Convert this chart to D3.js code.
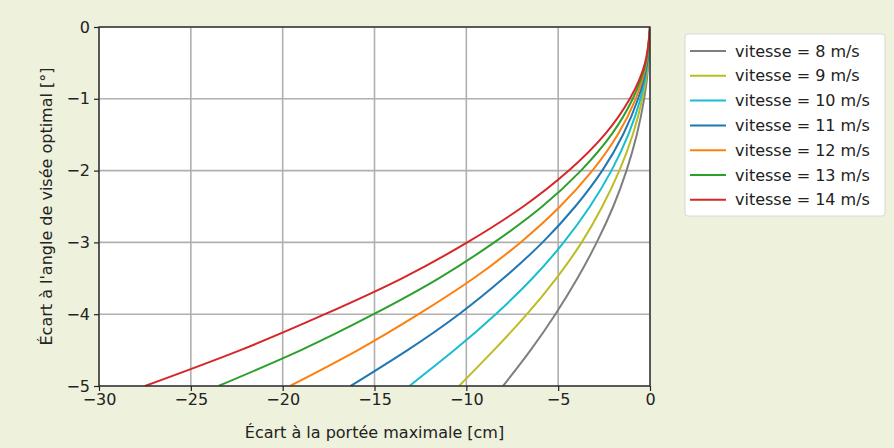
<!DOCTYPE html>
<html><head><meta charset="utf-8">
<script src="https://cdn.jsdelivr.net/npm/d3@7"></script>
<style>
html,body{margin:0;padding:0;background:#eef1dc;}
svg{display:block;}
text{font-family:"DejaVu Sans",sans-serif;fill:#222;}
</style></head>
<body>
<svg id="chart" width="894" height="448"></svg>
<script>
// Angle deviation levels (degrees) at which the range deviation was read
const angles = [0, -0.5, -1, -1.5, -2, -2.5, -3, -3.5, -4, -4.5, -5];
const speeds = [8, 9, 10, 11, 12, 13, 14];
const colors = ["#7f7f7f", "#bcbd22", "#17becf", "#1f77b4", "#ff7f0e", "#2ca02c", "#d62728"];
// Range deviation (cm) for each speed
const v8  = [0, -0.08, -0.32, -0.72, -1.28, -2.0, -2.9, -3.95, -5.15, -6.5, -8.0];
const v9  = [0, -0.10, -0.42, -0.94, -1.67, -2.6, -3.72, -5.1, -6.7, -8.5, -10.4];
const v10 = [0, -0.13, -0.52, -1.18, -2.1, -3.27, -4.7, -6.4, -8.4, -10.65, -13.1];
const v11 = [0, -0.16, -0.65, -1.47, -2.6, -4.07, -5.85, -7.98, -10.4, -13.2, -16.3];
const v12 = [0, -0.20, -0.78, -1.76, -3.14, -4.9, -7.05, -9.6, -12.6, -15.9, -19.6];
const v13 = [0, -0.23, -0.94, -2.1, -3.76, -5.87, -8.48, -11.5, -15.05, -19.0, -23.5];
const v14 = [0, -0.27, -1.1, -2.47, -4.42, -6.9, -9.95, -13.5, -17.7, -22.3, -27.5];
const seriesValues = [v8, v9, v10, v11, v12, v13, v14];
const xTicks = [-30, -25, -20, -15, -10, -5, 0];
const yTicks = [0, -1, -2, -3, -4, -5];
const xLabel = "Écart à la portée maximale [cm]";
const yLabel = "Écart à l'angle de visée optimal [°]";

const svg = d3.select("#chart");
const L = 99, R = 650, T = 27, B = 386;
const x = d3.scaleLinear().domain([-30, 0]).range([L, R]);
const y = d3.scaleLinear().domain([-5, 0]).range([B, T]);

svg.append("rect").attr("x", L).attr("y", T).attr("width", R - L).attr("height", B - T).attr("fill", "#fff");

// grid
const grid = svg.append("g").attr("stroke", "#b0b0b0").attr("stroke-width", 1.6);
grid.selectAll("line.gx").data(xTicks).join("line")
  .attr("x1", d => x(d)).attr("x2", d => x(d)).attr("y1", T).attr("y2", B);
grid.selectAll("line.gy").data(yTicks).join("line")
  .attr("y1", d => y(d)).attr("y2", d => y(d)).attr("x1", L).attr("x2", R);

// curves
svg.append("clipPath").attr("id", "clip").append("rect")
  .attr("x", L).attr("y", T).attr("width", R - L).attr("height", B - T);
const line = d3.line().x(d => x(d[0])).y(d => y(d[1])).curve(d3.curveNatural);
const curves = svg.append("g").attr("clip-path", "url(#clip)");
seriesValues.forEach((vals, i) => {
  const pts = vals.map((v, j) => [v, angles[j]]);
  curves.append("path").datum(pts).attr("d", line)
    .attr("fill", "none").attr("stroke", colors[i]).attr("stroke-width", 2);
});

// axes
const xAxis = d3.axisBottom(x).tickValues(xTicks).tickSize(5).tickPadding(3)
  .tickFormat(d => d < 0 ? "\u2212" + Math.abs(d) : d);
const yAxis = d3.axisLeft(y).tickValues(yTicks).tickSize(5).tickPadding(4)
  .tickFormat(d => d < 0 ? "\u2212" + Math.abs(d) : d);
const gx = svg.append("g").attr("transform", `translate(0,${B})`).call(xAxis);
const gy = svg.append("g").attr("transform", `translate(${L},0)`).call(yAxis);
[gx, gy].forEach(g => {
  g.select(".domain").remove();
  g.selectAll(".tick line").attr("stroke", "#222").attr("stroke-width", 1.2);
  g.selectAll(".tick text").attr("font-size", 16).attr("fill", "#222")
    .attr("font-family", "DejaVu Sans, sans-serif");
});

// frame
svg.append("rect").attr("x", L).attr("y", T).attr("width", R - L).attr("height", B - T)
  .attr("fill", "none").attr("stroke", "#222").attr("stroke-width", 1.3);

// labels
svg.append("text").attr("x", (L + R) / 2).attr("y", 438).attr("text-anchor", "middle")
  .attr("font-size", 16).text(xLabel);
svg.append("text").attr("transform", `translate(52,${(T + B) / 2}) rotate(-90)`)
  .attr("text-anchor", "middle").attr("font-size", 16).text(yLabel);

// legend
const lg = svg.append("g");
lg.append("rect").attr("x", 685).attr("y", 34).attr("width", 200).attr("height", 182)
  .attr("rx", 3).attr("fill", "#fff").attr("stroke", "#d8d8d8").attr("stroke-width", 1);
speeds.forEach((s, i) => {
  const cy = 51 + i * 24.8;
  lg.append("line").attr("x1", 690).attr("x2", 726).attr("y1", cy).attr("y2", cy)
    .attr("stroke", colors[i]).attr("stroke-width", 2);
  lg.append("text").attr("x", 735).attr("y", cy).attr("dy", "0.35em")
    .attr("font-size", 16).text(`vitesse = ${s} m/s`);
});
</script>
</body></html>
